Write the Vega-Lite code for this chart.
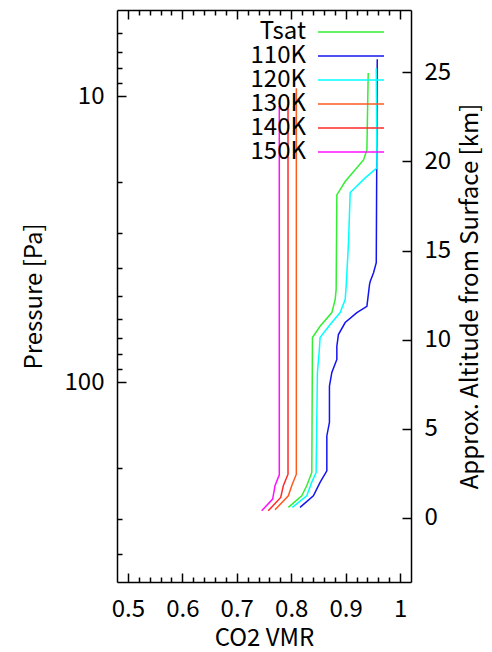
{
  "$schema": "https://vega.github.io/schema/vega-lite/v6.json",
  "width": 294,
  "height": 572,
  "autosize": "none",
  "padding": {"left": 117, "top": 10, "right": 81, "bottom": 70},
  "background": "white",
  "config": {
    "view": {"stroke": null},
    "font": "Noto Sans CJK JP",
    "axis": {
      "domainColor": "black", "domainWidth": 1.5,
      "tickColor": "black", "tickWidth": 1.5,
      "grid": false,
      "labelFont": "Noto Sans CJK JP", "labelFontSize": 24, "labelColor": "black",
      "titleFont": "Noto Sans CJK JP", "titleFontSize": 24, "titleFontWeight": "normal", "titleColor": "black",
      "labelOverlap": false, "labelFlush": false
    }
  },
  "data": {"values": [
    {"s": "Tsat", "v": 0.9414, "p": 8.31},
    {"s": "Tsat", "v": 0.939, "p": 15.43},
    {"s": "Tsat", "v": 0.9328, "p": 16.72},
    {"s": "Tsat", "v": 0.8991, "p": 19.9},
    {"s": "Tsat", "v": 0.8838, "p": 22.15},
    {"s": "Tsat", "v": 0.8825, "p": 47.51},
    {"s": "Tsat", "v": 0.8807, "p": 51.47},
    {"s": "Tsat", "v": 0.8746, "p": 57.14},
    {"s": "Tsat", "v": 0.853, "p": 63.78},
    {"s": "Tsat", "v": 0.839, "p": 69.86},
    {"s": "Tsat", "v": 0.8378, "p": 207.0},
    {"s": "Tsat", "v": 0.8285, "p": 230.5},
    {"s": "Tsat", "v": 0.8193, "p": 249.8},
    {"s": "Tsat", "v": 0.7947, "p": 274.2},
    {"s": "110K", "v": 0.958, "p": 7.43},
    {"s": "110K", "v": 0.9562, "p": 38.23},
    {"s": "110K", "v": 0.9512, "p": 41.43},
    {"s": "110K", "v": 0.9451, "p": 44.44},
    {"s": "110K", "v": 0.9438, "p": 45.63},
    {"s": "110K", "v": 0.939, "p": 54.32},
    {"s": "110K", "v": 0.9206, "p": 57.14},
    {"s": "110K", "v": 0.8991, "p": 61.91},
    {"s": "110K", "v": 0.8867, "p": 68.19},
    {"s": "110K", "v": 0.8838, "p": 74.91},
    {"s": "110K", "v": 0.8838, "p": 83.34},
    {"s": "110K", "v": 0.8746, "p": 92.51},
    {"s": "110K", "v": 0.8702, "p": 103.2},
    {"s": "110K", "v": 0.8702, "p": 138.2},
    {"s": "110K", "v": 0.8654, "p": 154.3},
    {"s": "110K", "v": 0.8654, "p": 204.4},
    {"s": "110K", "v": 0.853, "p": 224.3},
    {"s": "110K", "v": 0.8407, "p": 249.8},
    {"s": "110K", "v": 0.8162, "p": 274.2},
    {"s": "120K", "v": 0.9562, "p": 7.99},
    {"s": "120K", "v": 0.9575, "p": 17.83},
    {"s": "120K", "v": 0.9359, "p": 19.32},
    {"s": "120K", "v": 0.9083, "p": 21.74},
    {"s": "120K", "v": 0.9052, "p": 32.56},
    {"s": "120K", "v": 0.9009, "p": 46.27},
    {"s": "120K", "v": 0.8991, "p": 51.47},
    {"s": "120K", "v": 0.8899, "p": 57.14},
    {"s": "120K", "v": 0.8715, "p": 62.92},
    {"s": "120K", "v": 0.853, "p": 69.86},
    {"s": "120K", "v": 0.8517, "p": 76.91},
    {"s": "120K", "v": 0.8481, "p": 92.51},
    {"s": "120K", "v": 0.8457, "p": 207.0},
    {"s": "120K", "v": 0.8378, "p": 223.8},
    {"s": "120K", "v": 0.8285, "p": 249.8},
    {"s": "120K", "v": 0.802, "p": 274.2},
    {"s": "130K", "v": 0.8094, "p": 9.38},
    {"s": "130K", "v": 0.8094, "p": 209.9},
    {"s": "130K", "v": 0.8009, "p": 230.5},
    {"s": "130K", "v": 0.7947, "p": 249.8},
    {"s": "130K", "v": 0.7702, "p": 279.6},
    {"s": "140K", "v": 0.7941, "p": 10.08},
    {"s": "140K", "v": 0.7941, "p": 209.9},
    {"s": "140K", "v": 0.7855, "p": 230.5},
    {"s": "140K", "v": 0.7807, "p": 253.1},
    {"s": "140K", "v": 0.7578, "p": 281.8},
    {"s": "150K", "v": 0.7781, "p": 10.83},
    {"s": "150K", "v": 0.7781, "p": 211.0},
    {"s": "150K", "v": 0.7702, "p": 230.5},
    {"s": "150K", "v": 0.7659, "p": 256.5},
    {"s": "150K", "v": 0.7457, "p": 281.8}
  ]},
  "layer": [
    {
      "mark": {"type": "line", "strokeWidth": 1.5, "clip": true},
      "encoding": {
        "x": {
          "field": "v", "type": "quantitative",
          "scale": {"domain": [0.48, 1.02], "nice": false, "zero": false},
          "axis": {
            "orient": "bottom", "title": "CO2 VMR",
            "values": [0.5,0.6,0.7,0.8,0.9,1.0],
            "labelExpr": "format(datum.value, '~g')",
            "ticks": false, "tickSize": 0,
            "labelPadding": 15, "titlePadding": 5
          }
        },
        "y": {
          "field": "p", "type": "quantitative",
          "scale": {"type": "log", "domain": [5, 500], "reverse": true, "nice": false},
          "axis": {
            "orient": "left", "title": "Pressure [Pa]",
            "values": [10, 100],
            "labelExpr": "format(datum.value, 'd')",
            "ticks": false, "tickSize": 0,
            "labelPadding": 13, "titlePadding": 18
          }
        },
        "color": {
          "field": "s", "type": "nominal",
          "scale": {"domain": ["Tsat","110K","120K","130K","140K","150K"], "range": ["#33ee33","#1414ee","#00ffff","#ff5a1e","#ff2a2a","#ff10ff"]},
          "legend": {
            "orient": "none", "legendX": 129, "legendY": 10, "title": null,
            "symbolType": "M-3,0H3", "symbolSize": 484, "symbolStrokeWidth": 1.5,
            "symbolOffset": 93, "labelOffset": -57, "labelAlign": "right",
            "labelFont": "Noto Sans CJK JP", "labelFontSize": 24, "labelColor": "black", "labelLimit": 0,
            "rowPadding": 0, "padding": 0
          }
        },
        "order": {"field": "p", "type": "quantitative"}
      }
    },
    {
      "mark": {"type": "point", "opacity": 0},
      "encoding": {
        "x": {
          "field": "v", "type": "quantitative",
          "axis": {
            "orient": "top", "offset": -572, "title": null, "labels": false, "domain": false,
            "values": [0.5,0.52,0.54,0.56,0.58,0.6,0.62,0.64,0.66,0.68,0.7,0.72,0.74,0.76,0.78,0.8,0.82,0.84,0.86,0.88,0.9,0.92,0.94,0.96,0.98,1.0],
            "tickSize": {"condition": {"test": "abs(datum.value*10 - round(datum.value*10)) < 0.001", "value": 9}, "value": 5}
          }
        }
      }
    },
    {
      "mark": {"type": "point", "opacity": 0},
      "encoding": {
        "x": {
          "field": "v", "type": "quantitative",
          "axis": {
            "orient": "bottom", "offset": -572, "title": null, "labels": false, "domain": true,
            "values": [0.5,0.52,0.54,0.56,0.58,0.6,0.62,0.64,0.66,0.68,0.7,0.72,0.74,0.76,0.78,0.8,0.82,0.84,0.86,0.88,0.9,0.92,0.94,0.96,0.98,1.0],
            "tickSize": {"condition": {"test": "abs(datum.value*10 - round(datum.value*10)) < 0.001", "value": 9}, "value": 5}
          }
        }
      }
    },
    {
      "mark": {"type": "point", "opacity": 0},
      "encoding": {
        "y": {
          "field": "p", "type": "quantitative",
          "scale": {"type": "log", "domain": [5, 500], "reverse": true, "nice": false},
          "axis": {
            "orient": "right", "offset": -294, "title": null, "labels": false, "domain": false,
            "values": [6,7,8,9,10,20,30,40,50,60,70,80,90,100,200,300,400],
            "tickSize": {"condition": {"test": "datum.value == 10 || datum.value == 100", "value": 9}, "value": 5}
          }
        }
      }
    },
    {
      "data": {"values": [{"alt": 0}]},
      "mark": {"type": "point", "opacity": 0},
      "encoding": {
        "y": {
          "field": "alt", "type": "quantitative",
          "scale": {"domain": [-3.6, 28.5], "nice": false, "zero": false},
          "axis": {
            "orient": "right", "title": "Approx. Altitude from Surface [km]",
            "values": [0,5,10,15,20,25], "ticks": false, "tickSize": 0, "labelPadding": 13,
            "titleAngle": 270, "titleBaseline": "top", "titlePadding": 8
          }
        }
      }
    },
    {
      "data": {"values": [{"alt": 0}]},
      "mark": {"type": "point", "opacity": 0},
      "encoding": {
        "y": {
          "field": "alt", "type": "quantitative",
          "scale": {"domain": [-3.6, 28.5], "nice": false, "zero": false},
          "axis": {
            "orient": "left", "offset": -294, "title": null, "labels": false, "domain": false,
            "values": [0,5,10,15,20,25], "tickSize": 9
          }
        }
      }
    }
  ],
  "resolve": {"scale": {"y": "independent"}, "axis": {"x": "independent", "y": "independent"}}
}
